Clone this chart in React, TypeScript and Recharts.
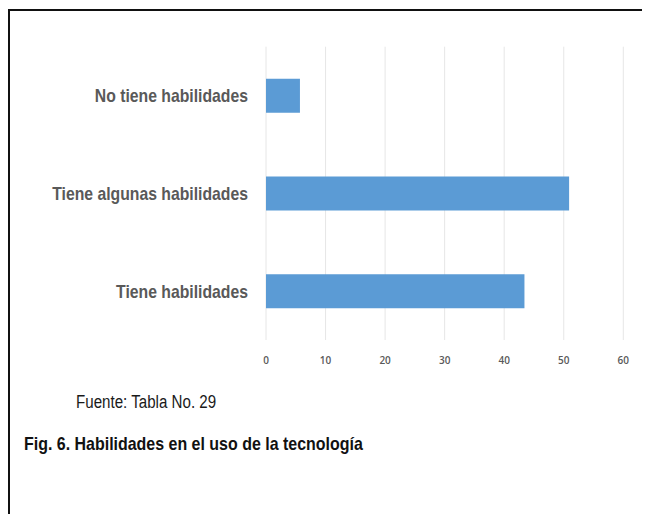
import React from "react";
import { BarChart, Bar, XAxis, YAxis, CartesianGrid } from "recharts";

const categories = ["No tiene habilidades", "Tiene algunas habilidades", "Tiene habilidades"];
const percentages = [5.7, 50.9, 43.4];
const xTicks = [0, 10, 20, 30, 40, 50, 60];

const data = categories.map((name, i) => ({ name, value: percentages[i] }));

// no condensed face installed, so squeeze Liberation Sans horizontally
const sans = "'Liberation Sans', Arial, sans-serif";
const squeeze = 0.83;

const CategoryTick = (props: any) => {
  const { x, y, payload } = props;
  return (
    <text
      transform={`translate(${x},${y}) scale(${squeeze},1)`}
      textAnchor="end"
      dy="0.355em"
      fill="#595959"
      fontSize={19}
      fontWeight={700}
      fontFamily={sans}
    >
      {payload.value}
    </text>
  );
};

const squeezed: React.CSSProperties = {
  position: "absolute",
  fontFamily: sans,
  lineHeight: 1,
  whiteSpace: "nowrap",
  transform: "scaleX(0.84)",
  transformOrigin: "0 0",
};

export default function App() {
  return (
    <div style={{ paddingTop: 1 }}>
      <div
        style={{
          position: "relative",
          width: 642,
          height: 505,
          boxSizing: "border-box",
          borderTop: "2px solid #111",
          borderLeft: "2px solid #111",
          background: "#fff",
        }}
      >
        <BarChart
          layout="vertical"
          width={640}
          height={359}
          data={data}
          margin={{ top: 35.7, right: 26.7, left: 0, bottom: 0 }}
        >
          <CartesianGrid horizontal={false} stroke="#e6e6e6" />
          <XAxis
            type="number"
            domain={[0, 60]}
            ticks={xTicks}
            axisLine={false}
            tickLine={false}
            tickMargin={11}
            height={30}
            tick={{ fill: "#595959", fontSize: 10, fontFamily: "'Open Sans', sans-serif", fontWeight: 600 }}
          />
          <YAxis
            type="category"
            dataKey="name"
            width={256}
            axisLine={false}
            tickLine={false}
            tickMargin={12}
            tick={<CategoryTick />}
          />
          <Bar dataKey="value" fill="#5b9bd5" barSize={34} isAnimationActive={false} />
        </BarChart>
        <div style={{ ...squeezed, left: 66, top: 381.5, fontSize: 18, color: "#1a1a1a" }}>
          Fuente: Tabla No. 29
        </div>
        <div style={{ ...squeezed, left: 14, top: 423, fontSize: 19, fontWeight: 700, color: "#111" }}>
          Fig. 6. Habilidades en el uso de la tecnología
        </div>
      </div>
    </div>
  );
}
